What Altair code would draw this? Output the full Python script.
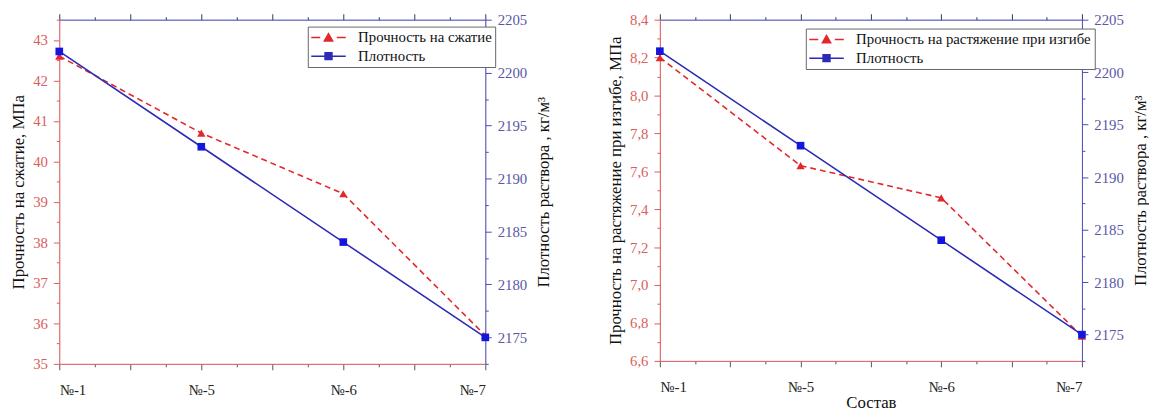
import json
import altair as alt
import pandas as pd

compositions = ["№-1", "№-5", "№-6", "№-7"]
compressive = [42.6, 40.7, 39.2, 35.7]
flexural = [8.2, 7.63, 7.46, 6.73]
density = [2202, 2193, 2184, 2175]

series_strength_left = "Прочность на сжатие"
series_strength_right = "Прочность на растяжение при изгибе"
series_density = "Плотность"

RED = "#e3272c"
RED_AX = "#e05a5a"
RED_LBL = "#d9605c"
BLUE = "#2b2bb5"
BLUE_AX = "#4a4ab8"
BLUE_LBL = "#5858a6"
FONT = "Liberation Serif, Times New Roman, serif"

# legend symbols: line + marker, drawn in the symbol's unit space (r = 7px)
RED_SYM = "M-2.5,0H-1.2M1.2,0H2.5M-0.6,0.5L0,-0.55L0.6,0.5Z"
BLUE_SYM = "M-2.5,0H2.5M-0.5,-0.5H0.5V0.5H-0.5Z"

comp_js = json.dumps(compositions, ensure_ascii=False)
x_vals = [i * 0.25 for i in range(13)]


def panel(strength, s_name, y_title, y_domain, y_step, y_major, y_label_expr,
          width, height, leg_x, leg_y, x_title):
    df = pd.DataFrame({
        "idx": list(range(len(compositions))),
        "comp": compositions,
        "strength": strength,
        "density": density,
    })
    base = alt.Chart(df)
    n_y = int(round((y_domain[1] - y_domain[0]) / y_step))
    y_vals = [round(y_domain[0] + i * y_step, 3) for i in range(n_y + 1)]
    d_vals = [2172.5 + i * 2.5 for i in range(14)]

    x_common = dict(
        values=x_vals,
        grid=False,
        tickSize={"condition": {"test": "datum.value % 0.5 == 0", "value": 6}, "value": 3},
        labelFont=FONT, labelFontSize=15, labelColor="#222",
        titleFont=FONT, titleFontSize=17, titleFontWeight="normal", titleColor="#111",
    )
    x_bottom = alt.X("idx:Q", scale=alt.Scale(domain=[0, len(compositions) - 1], nice=False),
                     axis=alt.Axis(orient="bottom", domainColor=RED_AX, tickColor="#555",
                                   labelExpr="datum.value % 1 == 0 ? " + comp_js + "[datum.value] : ''",
                                   labelPadding=13, title=x_title, titlePadding=0, **x_common))
    x_top = alt.X("idx:Q", scale=alt.Scale(domain=[0, len(compositions) - 1], nice=False),
                  axis=alt.Axis(orient="top", domainColor=BLUE_AX, tickColor="#333366",
                                labels=False, title=None, **x_common))

    red = base.mark_line(color=RED, strokeDash=[6, 4], strokeWidth=1.6,
                         point=alt.OverlayMarkDef(shape="triangle-up", filled=True, size=70,
                                                  color=RED, opacity=1)).encode(
        x=x_bottom,
        y=alt.Y("strength:Q", scale=alt.Scale(domain=y_domain, nice=False, zero=False),
                axis=alt.Axis(orient="left", values=y_vals, grid=False,
                              tickSize={"condition": {"test": y_major, "value": 6}, "value": 3},
                              labelExpr=y_label_expr, domainColor=RED_AX, tickColor=RED_AX,
                              labelColor=RED_LBL, labelFont=FONT, labelFontSize=15,
                              labelPadding=6,
                              title=y_title, titleFont=FONT, titleFontSize=17,
                              titleFontWeight="normal", titleColor="#111", titlePadding=5)),
    )
    blue = base.mark_line(color=BLUE, strokeWidth=1.6,
                          point=alt.OverlayMarkDef(shape="square", filled=True, size=60,
                                                   color="#1515e0", opacity=1)).encode(
        x=x_top,
        y=alt.Y("density:Q", scale=alt.Scale(domain=[2172.5, 2205], nice=False, zero=False),
                axis=alt.Axis(orient="right", values=d_vals, grid=False,
                              tickSize={"condition": {"test": "datum.value % 5 == 0", "value": 6}, "value": 3},
                              labelExpr="datum.value % 5 == 0 ? format(datum.value, 'd') : ''",
                              domainColor=BLUE_AX, tickColor=BLUE_AX, labelColor=BLUE_LBL,
                              labelFont=FONT, labelFontSize=15, labelPadding=6,
                              title="Плотность раствора , кг/м³", titleAngle=270,
                              titleBaseline="top",
                              titleFont=FONT, titleFontSize=17, titleFontWeight="normal",
                              titleColor="#111", titlePadding=9)),
    )
    names = [s_name, series_density]
    leg = alt.Legend(title=None, orient="none", legendX=leg_x, legendY=leg_y,
                     labelFont=FONT, labelFontSize=15, labelColor="#111", labelLimit=400,
                     strokeColor="#666", fillColor="white", padding=3, rowPadding=3,
                     symbolSize=196, symbolStrokeWidth=1.5, symbolOffset=10, labelOffset=22)
    legend_layer = base.mark_point(filled=True, size=196, strokeWidth=1.5, opacity=1).encode(
        fill=alt.Fill("series:N", scale=alt.Scale(domain=names, range=[RED, BLUE]), legend=leg),
        stroke=alt.Stroke("series:N", scale=alt.Scale(domain=names, range=[RED, BLUE]), legend=leg),
        shape=alt.Shape("series:N", scale=alt.Scale(domain=names, range=[RED_SYM, BLUE_SYM]), legend=leg),
    ).transform_calculate(series="'x'").transform_filter("false")

    return alt.layer(red, blue, legend_layer).resolve_scale(y="independent").resolve_axis(
        x="independent", y="independent").properties(width=width, height=height)


left = panel(compressive, series_strength_left, "Прочность на сжатие, МПа",
             [35, 43.5], 0.5, "datum.value % 1 == 0",
             "datum.value % 1 == 0 ? format(datum.value, 'd') : ''",
             432, 349, 252, 7, None)
right = panel(flexural, series_strength_right, "Прочность на растяжение при изгибе, МПа",
              [6.6, 8.4], 0.1, "abs(round(datum.value * 10)) % 2 == 0",
              "abs(round(datum.value * 10)) % 2 == 0 ? replace(format(datum.value, '.1f'), '.', ',') : ''",
              428, 346, 148, 9, "Состав")

chart = alt.hconcat(left, right, spacing=54).resolve_scale(
    fill="independent", stroke="independent", shape="independent"
).resolve_legend(fill="independent", stroke="independent", shape="independent").properties(
    padding={"left": 1, "top": 1, "right": 0, "bottom": 0}
).configure_view(stroke=None).configure(background="white").configure_axis(
    labelFont=FONT, titleFont=FONT
).configure_legend(labelFont=FONT)

chart.save("out.html", embed_options={"renderer": "svg", "actions": False})
